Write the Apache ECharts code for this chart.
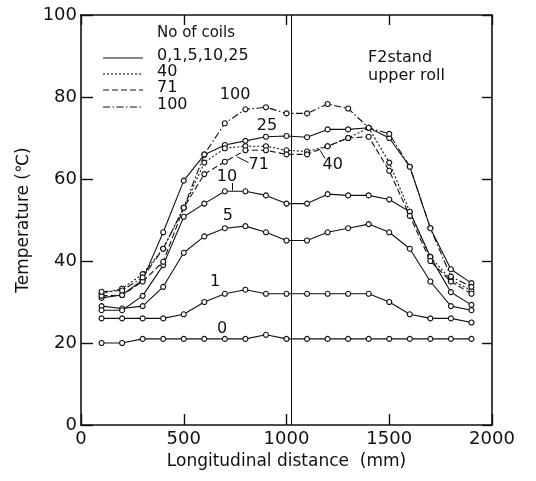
<!DOCTYPE html>
<html>
<head>
<meta charset="utf-8">
<script src="https://cdn.jsdelivr.net/npm/echarts@6/dist/echarts.min.js"></script>
<style>
  html, body { margin: 0; padding: 0; background: #fff; }
  #main { width: 536px; height: 481px; }
</style>
</head>
<body>
<div id="main"></div>
<script>
// longitudinal positions (mm)
const distance = [100, 200, 300, 400, 500, 600, 700, 800, 900, 1000,
  1100, 1200, 1300, 1400, 1500, 1600, 1700, 1800, 1900];

// roll surface temperature (deg C) after n coils
const coils0 = [20, 20, 21, 21, 21, 21, 21, 21, 22, 21, 21, 21, 21, 21, 21, 21, 21, 21, 21];
const coils1 = [26, 26, 26, 26, 27, 30, 32, 33, 32, 32, 32, 32, 32, 32, 30, 27, 26, 26, 25];
const coils5 = [29, 28.4, 29, 33.7, 42, 46, 48, 48.5, 47, 45, 45, 47, 48, 49, 47, 43, 35, 29, 28];
const coils10 = [28, 28, 31.5, 39, 50.8, 54, 57, 57, 56, 54, 54, 56.3, 56, 56, 55, 52, 41, 32.4, 29.3];
const coils25 = [31, 31.7, 35.4, 47, 59.6, 65.9, 68.3, 69.3, 70.3, 70.5, 70.2, 72.1, 72.1, 72.5, 70, 63, 48, 38, 34.6];
const coils40 = [32, 33.3, 36.8, 43, 53, 64, 67.5, 68, 68, 67, 66.7, 68, 70, 72.5, 64, 52, 41, 35.4, 32.8];
const coils71 = [31.5, 31.7, 35, 39.8, 53, 61.2, 64.2, 67, 67, 66, 66, 68, 70, 70.3, 62, 51, 40, 35, 32];
const coils100 = [32.5, 32.8, 36, 43, 53, 66, 73.6, 77, 77.5, 76, 76, 78.3, 77.2, 72.5, 71, 63, 48, 36.2, 33.7];

// centre of the stand
const centreLine = 1025;

const xTicks = [0, 500, 1000, 1500, 2000];
const yTicks = [0, 20, 40, 60, 80, 100];

const ink = '#111';
const font = 'DejaVu Sans';

const styles = {
  solid: 'solid',
  dotted: [2, 2],
  dashed: [6, 3],
  dashDot: [7, 2.5, 1.5, 2.5]
};

const curves = [
  { name: '0', values: coils0, type: styles.solid },
  { name: '1', values: coils1, type: styles.solid },
  { name: '5', values: coils5, type: styles.solid },
  { name: '10', values: coils10, type: styles.solid },
  { name: '25', values: coils25, type: styles.solid },
  { name: '40', values: coils40, type: styles.dotted },
  { name: '71', values: coils71, type: styles.dashed },
  { name: '100', values: coils100, type: styles.dashDot }
];

// curve labels placed in data coordinates
const curveLabels = [
  { text: '100', at: [750, 80.5] },
  { text: '25', at: [905, 73] },
  { text: '71', at: [865, 63.5] },
  { text: '40', at: [1225, 63.5] },
  { text: '10', at: [710, 60.5] },
  { text: '5', at: [715, 51] },
  { text: '1', at: [652, 35] },
  { text: '0', at: [686, 23.5] }
];

// short leader strokes from labels to their curves
const leaders = [
  [[760, 65.4], [815, 64]],
  [[1163, 67], [1188, 65]],
  [[735, 59], [735, 57.2]]
];

const series = curves.map(c => ({
  name: c.name,
  type: 'line',
  data: distance.map((d, i) => [d, c.values[i]]),
  symbol: 'circle',
  symbolSize: 5,
  itemStyle: { color: '#fff', borderColor: ink, borderWidth: 1.1 },
  lineStyle: { color: ink, width: 1.1, type: c.type },
  emphasis: { disabled: true },
  z: 3
}));

// centre line, leaders and curve labels
series.push({
  type: 'scatter',
  data: [],
  silent: true,
  markLine: {
    symbol: 'none',
    silent: true,
    label: { show: false },
    lineStyle: { color: ink, width: 1, type: 'solid' },
    data: [{ xAxis: centreLine }].concat(
      leaders.map(l => [{ coord: l[0] }, { coord: l[1] }]))
  },
  markPoint: {
    symbol: 'rect',
    symbolSize: 1,
    itemStyle: { color: 'rgba(0,0,0,0)' },
    label: {
      show: true,
      color: ink,
      fontFamily: font,
      fontSize: 16,
      formatter: p => p.name
    },
    data: curveLabels.map(l => ({ name: l.text, coord: l.at }))
  }
});

const legendRows = [
  { text: '0,1,5,10,25', dash: null, y: 58 },
  { text: '40', dash: styles.dotted, y: 74 },
  { text: '71', dash: styles.dashed, y: 90 },
  { text: '100', dash: styles.dashDot, y: 107 }
];

const graphic = [
  { type: 'text', left: 157, top: 26, style: { text: 'No of coils', fill: ink, font: '15px "DejaVu Sans"' } },
  { type: 'text', left: 368, top: 49, style: { text: 'F2stand\nupper roll', fill: ink, font: '16px "DejaVu Sans"', lineHeight: 18 } }
];
legendRows.forEach(r => {
  graphic.push({
    type: 'line',
    shape: { x1: 103, y1: r.y, x2: 143, y2: r.y },
    style: { stroke: ink, lineWidth: 1.1, lineDash: r.dash }
  });
  graphic.push({
    type: 'text', left: 157, top: r.y - 10,
    style: { text: r.text, fill: ink, font: '16px "DejaVu Sans"' }
  });
});

const axisLine = { show: true, onZero: false, lineStyle: { color: ink, width: 1.6 } };
const inTick = len => ({ show: true, inside: true, length: len, lineStyle: { color: ink, width: 1.4 } });

const option = {
  animation: false,
  backgroundColor: '#fff',
  grid: { left: 81, right: 44, top: 15, bottom: 56 },
  xAxis: [
    {
      type: 'value', min: 0, max: 2000, interval: 500,
      position: 'bottom',
      name: 'Longitudinal distance  (mm)',
      nameLocation: 'middle', nameGap: 28,
      nameTextStyle: { color: ink, fontFamily: font, fontSize: 17 },
      axisLine, axisTick: inTick(11),
      axisLabel: { color: ink, fontFamily: font, fontSize: 18, margin: 5,
        formatter: v => xTicks.includes(v) ? String(v) : '' },
      splitLine: { show: false }
    },
    {
      type: 'value', min: 0, max: 2000, interval: 500,
      position: 'top',
      axisLine, axisTick: inTick(10),
      axisLabel: { show: false }, splitLine: { show: false }
    }
  ],
  yAxis: [
    {
      type: 'value', min: 0, max: 100, interval: 20,
      position: 'left',
      name: 'Temperature (℃)',
      nameLocation: 'middle', nameGap: 42,
      nameTextStyle: { color: ink, fontFamily: font, fontSize: 17 },
      axisLine, axisTick: inTick(12),
      axisLabel: { color: ink, fontFamily: font, fontSize: 18, margin: 4,
        formatter: v => yTicks.includes(v) ? String(v) : '' },
      splitLine: { show: false }
    },
    {
      type: 'value', min: 0, max: 100, interval: 20,
      position: 'right',
      axisLine, axisTick: inTick(10),
      axisLabel: { show: false }, splitLine: { show: false }
    }
  ],
  graphic,
  series
};

const chart = echarts.init(document.getElementById('main'), null, { renderer: 'canvas' });
chart.setOption(option);
</script>
</body>
</html>
